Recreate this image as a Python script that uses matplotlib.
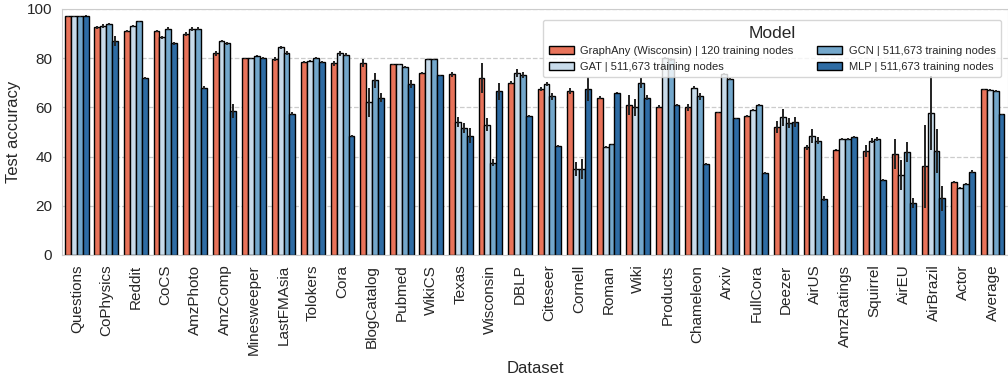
import matplotlib.pyplot as plt
import numpy as np
import seaborn as sns

datasets = ['Questions', 'CoPhysics', 'Reddit', 'CoCS', 'AmzPhoto', 'AmzComp', 'Minesweeper',
            'LastFMAsia', 'Tolokers', 'Cora', 'BlogCatalog', 'Pubmed', 'WikiCS', 'Texas',
            'Wisconsin', 'DBLP', 'Citeseer', 'Cornell', 'Roman', 'Wiki', 'Products',
            'Chameleon', 'Arxiv', 'FullCora', 'Deezer', 'AirUS', 'AmzRatings', 'Squirrel',
            'AirEU', 'AirBrazil', 'Actor', 'Average']

models = ['GraphAny (Wisconsin) | 120 training nodes',
          'GAT | 511,673 training nodes',
          'GCN | 511,673 training nodes',
          'MLP | 511,673 training nodes']

graphany = [97.0, 92.5, 91.0, 91.0, 90.0, 82.0, 80.0, 79.5, 78.5, 78.0, 78.0, 77.5, 74.0, 73.5,
            72.0, 70.0, 67.5, 66.7, 64.0, 61.0, 60.3, 60.0, 58.0, 56.5, 52.0, 43.8, 42.7, 42.4,
            41.0, 36.0, 29.6, 67.3]
gat = [97.0, 93.0, 93.0, 88.5, 92.0, 87.0, 80.0, 84.5, 79.0, 82.0, 62.0, 77.5, 79.5, 54.0,
       53.0, 74.0, 69.5, 35.0, 44.0, 60.0, 80.0, 68.0, 73.5, 59.0, 56.0, 48.4, 47.2, 46.5,
       32.5, 57.6, 27.4, 67.0]
gcn = [97.0, 94.0, 95.0, 92.0, 92.0, 86.0, 81.0, 82.0, 80.0, 81.5, 71.0, 76.5, 79.5, 51.5,
       37.5, 73.0, 64.5, 35.0, 45.0, 70.0, 79.5, 64.5, 71.5, 61.0, 53.5, 46.5, 47.2, 47.0,
       41.8, 42.3, 28.8, 66.6]
mlp = [97.3, 87.0, 72.0, 86.0, 68.0, 58.5, 80.0, 57.5, 78.5, 48.5, 64.0, 69.5, 73.0, 48.5,
       66.5, 56.5, 44.3, 67.5, 66.0, 64.0, 61.0, 37.0, 55.5, 33.5, 54.0, 22.8, 48.0, 30.5,
       21.0, 23.0, 33.9, 57.2]

graphany_err = [0.2, 0.5, 0.3, 0.5, 0.8, 1.0, 0.2, 0.8, 0.3, 1.0, 1.5, 0.3, 0.5, 1.0,
                6.0, 0.6, 0.8, 1.2, 0.5, 4.0, 0.5, 1.5, 0.3, 0.3, 2.5, 1.0, 0.2, 2.5,
                6.0, 17.0, 0.5, 0.3]
gat_err = [0.2, 0.8, 0.3, 0.6, 0.8, 0.5, 0.2, 0.6, 0.3, 1.0, 6.0, 0.3, 0.3, 2.0,
           2.5, 1.5, 1.0, 3.0, 0.5, 3.5, 0.5, 0.5, 0.5, 0.3, 3.5, 3.0, 0.3, 1.0,
           6.0, 15.0, 0.3, 0.3]
gcn_err = [0.2, 0.5, 0.3, 0.6, 0.6, 0.6, 0.3, 0.8, 0.3, 0.5, 3.0, 0.3, 0.3, 2.0,
           1.5, 1.2, 1.5, 4.0, 0.3, 2.0, 0.5, 1.5, 0.5, 0.3, 2.0, 1.5, 0.3, 0.8,
           4.0, 9.0, 0.5, 0.3]
mlp_err = [0.2, 2.0, 0.3, 0.5, 0.5, 3.0, 0.3, 0.5, 0.3, 0.4, 2.0, 1.5, 0.3, 3.0,
           3.5, 0.3, 0.3, 5.0, 0.3, 1.0, 0.3, 0.5, 0.3, 0.4, 2.0, 1.0, 0.3, 0.3,
           2.0, 5.0, 0.5, 0.3]

sns.set_style('whitegrid')
plt.rcParams['font.family'] = ['Liberation Sans', 'DejaVu Sans']

colors = ['#e8735a', '#c8dbea', '#73a7cb', '#2e6ca4']
values = [graphany, gat, gcn, mlp]
errors = [graphany_err, gat_err, gcn_err, mlp_err]

fig = plt.figure(figsize=(10.08, 3.75), dpi=100)
ax = fig.add_axes([0.0615, 0.32, 0.9385, 0.656])

x = np.arange(len(datasets))
width = 0.2
for i, (vals, errs, col, lab) in enumerate(zip(values, errors, colors, models)):
    pos = x - 0.3 + i * width
    ax.bar(pos, vals, width=width, color=col, edgecolor='black', linewidth=1.0, label=lab, zorder=2)
    ax.errorbar(pos, vals, yerr=errs, fmt='none', ecolor='#222222', elinewidth=1.4, capsize=0, zorder=3)

ax.set_xlim(-0.5, len(datasets) - 0.48)
ax.set_ylim(0, 100)
ax.set_yticks([0, 20, 40, 60, 80, 100])
ax.set_xticks(x)
ax.set_xticklabels(datasets, rotation=90, fontsize=11)
ax.tick_params(axis='y', labelsize=11)
ax.set_ylabel('Test accuracy', fontsize=12)
ax.set_xlabel('Dataset', fontsize=12)
ax.grid(axis='y', linestyle='--', color='#cccccc', linewidth=0.9)
ax.grid(axis='x', visible=False)
for s in ax.spines.values():
    s.set_color('#cccccc')

ax.legend(title='Model', ncol=2, fontsize=8, title_fontsize=12.5, loc='upper right',
          bbox_to_anchor=(0.9926, 0.955), borderaxespad=0, framealpha=0.8,
          columnspacing=2.1, handlelength=2.25, handletextpad=0.6,
          borderpad=0.5, labelspacing=0.5)

plt.savefig('out.png', dpi=100)
plt.close()
